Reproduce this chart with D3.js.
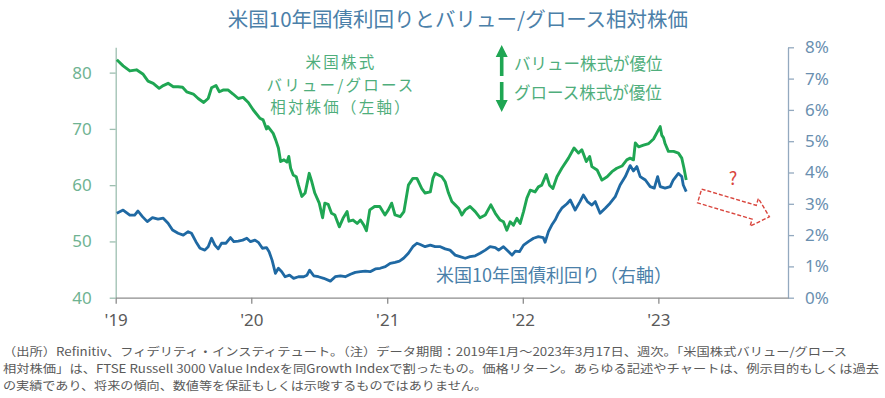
<!DOCTYPE html>
<html>
<head>
<meta charset="utf-8">
<script src="https://cdn.jsdelivr.net/npm/d3@7"></script>
<style>
    html, body { margin: 0; padding: 0; background: #fff; }
    svg text { font-family: "Noto Sans CJK JP", "Noto Sans", sans-serif; }
</style>
</head>
<body>
<svg id="chart" width="885" height="398"></svg>
<script>
// value / growth relative price (left axis), weekly
var ratioDates = [
    '2019-01-04', '2019-01-21', '2019-02-08', '2019-02-26', '2019-03-16', '2019-03-29', '2019-04-12', '2019-04-28',
    '2019-05-09', '2019-05-22', '2019-06-05', '2019-06-18', '2019-06-30', '2019-07-11', '2019-07-29', '2019-08-11',
    '2019-08-26', '2019-09-07', '2019-09-16', '2019-09-28', '2019-10-07', '2019-10-17', '2019-10-31', '2019-11-13',
    '2019-11-27', '2019-12-10', '2019-12-24', '2020-01-06', '2020-01-24', '2020-02-02', '2020-02-11', '2020-02-15',
    '2020-02-29', '2020-03-07', '2020-03-14', '2020-03-20', '2020-03-29', '2020-04-06', '2020-04-11', '2020-04-16',
    '2020-04-23', '2020-05-01', '2020-05-07', '2020-05-16', '2020-05-25', '2020-06-05', '2020-06-12', '2020-06-20',
    '2020-07-02', '2020-07-11', '2020-07-17', '2020-07-26', '2020-08-04', '2020-08-13', '2020-08-25', '2020-09-04',
    '2020-09-15', '2020-09-20', '2020-10-01', '2020-10-12', '2020-10-21', '2020-10-30', '2020-11-06', '2020-11-15',
    '2020-11-28', '2020-12-12', '2020-12-26', '2021-01-04', '2021-01-13', '2021-01-22', '2021-02-05', '2021-02-15',
    '2021-02-27', '2021-03-11', '2021-03-22', '2021-04-04', '2021-04-13', '2021-04-27', '2021-05-04', '2021-05-10',
    '2021-05-19', '2021-05-28', '2021-06-06', '2021-06-15', '2021-06-24', '2021-07-03', '2021-07-12', '2021-07-21',
    '2021-07-30', '2021-08-12', '2021-08-26', '2021-09-08', '2021-09-22', '2021-10-07', '2021-10-19', '2021-11-01',
    '2021-11-10', '2021-11-19', '2021-11-28', '2021-12-07', '2021-12-16', '2021-12-25', '2022-01-03', '2022-01-12',
    '2022-01-21', '2022-02-03', '2022-02-12', '2022-02-21', '2022-03-05', '2022-03-14', '2022-03-23', '2022-04-03',
    '2022-04-16', '2022-05-04', '2022-05-19', '2022-05-31', '2022-06-09', '2022-06-21', '2022-06-30', '2022-07-06',
    '2022-07-20', '2022-08-02', '2022-08-16', '2022-08-29', '2022-09-11', '2022-09-25', '2022-10-08', '2022-10-17',
    '2022-10-26', '2022-10-31', '2022-11-09', '2022-11-22', '2022-12-06', '2022-12-19', '2023-01-06', '2023-01-10',
    '2023-01-15', '2023-01-19', '2023-01-28', '2023-02-11', '2023-02-24', '2023-03-05', '2023-03-11', '2023-03-17'
];
var ratioValues = [
    82.3, 81.2, 80.3, 80.5, 79.7, 78.5, 78.1, 77.2,
    77.7, 78.1, 77.5, 77.5, 77.4, 76.6, 76.2, 75.4,
    74.7, 75.4, 77.3, 77.7, 76.6, 76.9, 76.9, 76.2,
    75.4, 75.6, 74.7, 73.4, 71.9, 71.6, 70.0, 70.4,
    69.2, 68.0, 66.6, 64.2, 64.5, 64.1, 65.1, 63.0,
    61.8, 61.5, 60.0, 58.0, 58.6, 62.1, 60.6, 58.6,
    56.8, 54.2, 56.8, 56.6, 55.0, 54.7, 52.6, 54.1,
    55.3, 53.6, 53.8, 53.2, 53.8, 52.9, 51.9, 55.6,
    56.2, 56.2, 54.7, 55.6, 56.8, 54.7, 54.4, 55.3,
    60.0, 61.2, 61.2, 59.4, 58.6, 58.8, 61.2, 62.1,
    61.8, 61.5, 60.6, 58.6, 57.1, 56.5, 55.9, 54.7,
    55.6, 56.2, 55.3, 54.2, 54.7, 56.5, 55.0, 53.8,
    53.5, 52.0, 53.5, 52.9, 54.1, 53.2, 55.3, 57.7,
    59.1, 58.8, 59.7, 60.0, 61.9, 60.0, 59.4, 61.5,
    63.0, 64.8, 66.6, 65.7, 66.3, 64.2, 65.1, 63.3,
    62.7, 60.9, 61.5, 62.4, 63.0, 63.4, 64.5, 64.8,
    64.5, 67.5, 66.8, 67.1, 67.4, 68.2, 70.4, 68.9,
    68.4, 67.4, 66.0, 66.0, 65.7, 64.8, 63.0, 60.9
];

// US 10y treasury yield, % (right axis)
var yieldDates = [
    '2019-01-04', '2019-01-21', '2019-02-08', '2019-02-21', '2019-03-02', '2019-03-14', '2019-03-27', '2019-04-10',
    '2019-04-25', '2019-05-09', '2019-05-22', '2019-06-03', '2019-06-18', '2019-07-02', '2019-07-15', '2019-07-24',
    '2019-08-05', '2019-08-16', '2019-08-29', '2019-09-07', '2019-09-16', '2019-09-25', '2019-10-04', '2019-10-13',
    '2019-10-25', '2019-11-06', '2019-11-15', '2019-11-27', '2019-12-09', '2019-12-20', '2019-12-30', '2020-01-11',
    '2020-01-20', '2020-01-31', '2020-02-11', '2020-02-18', '2020-02-26', '2020-03-06', '2020-03-14', '2020-03-23',
    '2020-04-01', '2020-04-13', '2020-04-24', '2020-05-07', '2020-05-21', '2020-05-30', '2020-06-06', '2020-06-17',
    '2020-06-30', '2020-07-14', '2020-08-01', '2020-08-14', '2020-08-28', '2020-09-10', '2020-09-24', '2020-10-07',
    '2020-10-21', '2020-11-03', '2020-11-16', '2020-11-30', '2020-12-13', '2020-12-27', '2021-01-09', '2021-01-22',
    '2021-02-03', '2021-02-14', '2021-02-27', '2021-03-11', '2021-03-22', '2021-03-31', '2021-04-13', '2021-04-27',
    '2021-05-10', '2021-05-24', '2021-06-06', '2021-06-19', '2021-07-03', '2021-07-16', '2021-07-30', '2021-08-12',
    '2021-08-26', '2021-09-08', '2021-09-22', '2021-10-05', '2021-10-19', '2021-10-28', '2021-11-10', '2021-11-24',
    '2021-12-03', '2021-12-12', '2021-12-23', '2022-01-03', '2022-01-16', '2022-01-30', '2022-02-12', '2022-02-25',
    '2022-03-02', '2022-03-11', '2022-03-20', '2022-03-29', '2022-04-07', '2022-04-16', '2022-04-30', '2022-05-09',
    '2022-05-22', '2022-06-04', '2022-06-13', '2022-06-24', '2022-07-06', '2022-07-15', '2022-07-28', '2022-08-11',
    '2022-08-24', '2022-09-07', '2022-09-20', '2022-10-04', '2022-10-17', '2022-10-26', '2022-11-04', '2022-11-13',
    '2022-11-27', '2022-12-10', '2022-12-21', '2022-12-30', '2023-01-06', '2023-01-19', '2023-02-02', '2023-02-10',
    '2023-02-24', '2023-03-05', '2023-03-09', '2023-03-17'
];
var yieldValues = [
    2.70, 2.80, 2.64, 2.64, 2.77, 2.59, 2.43, 2.56,
    2.51, 2.54, 2.38, 2.16, 2.06, 2.00, 2.11, 2.06,
    1.79, 1.58, 1.52, 1.63, 1.90, 1.68, 1.56, 1.74,
    1.74, 1.92, 1.79, 1.81, 1.84, 1.90, 1.79, 1.84,
    1.77, 1.58, 1.60, 1.47, 1.20, 0.78, 0.94, 0.83,
    0.67, 0.72, 0.62, 0.67, 0.67, 0.72, 0.88, 0.70,
    0.67, 0.62, 0.53, 0.67, 0.70, 0.67, 0.75, 0.81,
    0.83, 0.85, 0.83, 0.92, 0.94, 0.99, 1.10, 1.13,
    1.17, 1.26, 1.42, 1.63, 1.74, 1.70, 1.63, 1.68,
    1.63, 1.63, 1.56, 1.52, 1.36, 1.31, 1.26, 1.31,
    1.34, 1.42, 1.52, 1.63, 1.60, 1.52, 1.63, 1.47,
    1.36, 1.49, 1.47, 1.68, 1.79, 1.90, 1.95, 1.92,
    1.77, 2.11, 2.32, 2.48, 2.70, 2.86, 3.00, 3.12,
    2.80, 3.07, 3.28, 3.07, 2.96, 3.07, 2.70, 2.86,
    3.02, 3.23, 3.60, 3.87, 4.22, 4.05, 4.19, 3.87,
    3.76, 3.55, 3.50, 3.87, 3.55, 3.50, 3.55, 3.76,
    3.97, 3.87, 3.60, 3.39
];

var yearTicks = ['2019-01-01', '2020-01-01', '2021-01-01', '2022-01-01', '2023-01-01'];
var yearLabels = ["'19", "'20", "'21", "'22", "'23"];
var leftTicks = [40, 50, 60, 70, 80];
var rightTicks = [0, 1, 2, 3, 4, 5, 6, 7, 8];

var titleText = '米国10年国債利回りとバリュー/グロース相対株価';
var ratioLabel = ['米国株式', 'バリュー/グロース', '相対株価（左軸）'];
var yieldLabel = '米国10年国債利回り（右軸）';
var upText = 'バリュー株式が優位';
var downText = 'グロース株式が優位';
var footnote = [
    '（出所）Refinitiv、フィデリティ・インスティテュート。（注）データ期間：2019年1月～2023年3月17日、週次。「米国株式バリュー/グロース',
    '相対株価」は、FTSE Russell 3000 Value Indexを同Growth Indexで割ったもの。価格リターン。あらゆる記述やチャートは、例示目的もしくは過去',
    'の実績であり、将来の傾向、数値等を保証もしくは示唆するものではありません。'
];

var green = '#1fa653';
var blue = '#1f69a3';
var parse = d3.timeParse('%Y-%m-%d');

var svg = d3.select('#chart');
var plotLeft = 115.7, plotRight = 788, plotTop = 47.3, plotBottom = 297.7;

var x = d3.scaleTime()
    .domain([parse('2019-01-01'), parse('2023-12-16')])
    .range([plotLeft, plotRight]);
var yLeft = d3.scaleLinear().domain([40, 84.5]).range([plotBottom, plotTop]);
var yRight = d3.scaleLinear().domain([0, 8]).range([plotBottom, plotTop]);

// title
svg.append('text')
    .attr('x', 458).attr('y', 27)
    .attr('text-anchor', 'middle')
    .attr('font-size', 20.5)
    .attr('fill', '#4b80a9')
    .text(titleText);

// axes
var leftAxis = svg.append('g')
    .attr('transform', 'translate(' + plotLeft + ',0)')
    .call(d3.axisLeft(yLeft).tickValues(leftTicks).tickSize(6).tickSizeOuter(0).tickPadding(18));
leftAxis.selectAll('path, line').attr('stroke', '#9dbfb0').attr('stroke-width', 1.3);
leftAxis.selectAll('text').attr('font-size', 17).attr('fill', '#6fb392')
    .style('font-family', '"Noto Sans", sans-serif');

var rightAxis = svg.append('g')
    .attr('transform', 'translate(' + plotRight + ',0)')
    .call(d3.axisRight(yRight).tickValues(rightTicks).tickFormat(function(d) { return d + '%'; })
        .tickSize(6).tickSizeOuter(0).tickPadding(11));
rightAxis.selectAll('path, line').attr('stroke', '#93a9bf').attr('stroke-width', 1.3);
rightAxis.selectAll('text').attr('font-size', 17).attr('fill', '#6a8fb0')
    .style('font-family', '"Noto Sans", sans-serif');

var bottomAxis = svg.append('g')
    .attr('transform', 'translate(0,' + plotBottom + ')')
    .call(d3.axisBottom(x).tickValues(yearTicks.map(parse))
        .tickFormat(function(d, i) { return yearLabels[i]; })
        .tickSize(6).tickSizeOuter(0).tickPadding(10));
bottomAxis.selectAll('path, line').attr('stroke', '#8c8c8c').attr('stroke-width', 1.3);
bottomAxis.selectAll('text').attr('font-size', 17).attr('fill', '#5a5a5a')
    .style('font-family', '"Noto Sans", sans-serif');

// lines
var ratioLine = d3.line()
    .x(function(d, i) { return x(parse(ratioDates[i])); })
    .y(function(d) { return yLeft(d); });
var yieldLine = d3.line()
    .x(function(d, i) { return x(parse(yieldDates[i])); })
    .y(function(d) { return yRight(d); });

svg.append('path')
    .datum(ratioValues)
    .attr('d', ratioLine)
    .attr('fill', 'none')
    .attr('stroke', green)
    .attr('stroke-width', 2.9)
    .attr('stroke-linejoin', 'round');

svg.append('path')
    .datum(yieldValues)
    .attr('d', yieldLine)
    .attr('fill', 'none')
    .attr('stroke', blue)
    .attr('stroke-width', 2.8)
    .attr('stroke-linejoin', 'round');

// labels on the plot
ratioLabel.forEach(function(line, i) {
    svg.append('text')
        .attr('x', 341)
        .attr('y', 68 + i * 22.5)
        .attr('text-anchor', 'middle')
        .attr('font-size', 15.5)
        .attr('letter-spacing', 2.2)
        .attr('fill', '#4fae7c')
        .text(line);
});

svg.append('text')
    .attr('x', 436).attr('y', 282)
    .attr('font-size', 18)
    .attr('fill', '#4a80a9')
    .text(yieldLabel);

// value / growth arrows
var arrowX = 501.7;
svg.append('path')
    .attr('d', 'M' + arrowX + ',45 L' + (arrowX + 6) + ',57 L' + (arrowX + 1.8) + ',57 L' + (arrowX + 1.8) + ',76 L'
        + (arrowX - 1.8) + ',76 L' + (arrowX - 1.8) + ',57 L' + (arrowX - 6) + ',57 Z')
    .attr('fill', green);
svg.append('path')
    .attr('d', 'M' + arrowX + ',112 L' + (arrowX + 6) + ',100 L' + (arrowX + 1.8) + ',100 L' + (arrowX + 1.8) + ',82 L'
        + (arrowX - 1.8) + ',82 L' + (arrowX - 1.8) + ',100 L' + (arrowX - 6) + ',100 Z')
    .attr('fill', green);

svg.append('text').attr('x', 514).attr('y', 70)
    .attr('font-size', 16.5).attr('fill', '#4fae7c').text(upText);
svg.append('text').attr('x', 514).attr('y', 99)
    .attr('font-size', 16.5).attr('fill', '#4fae7c').text(downText);

// red dashed outlook arrow
var tailX = x(parse('2023-04-22')), tailY = yRight(3.25);
svg.append('path')
    .attr('d', 'M0,-7.2 L57,-7.2 L57,-14.5 L72.8,0 L57,14.5 L57,7.2 L0,7.2 Z')
    .attr('transform', 'translate(' + tailX + ',' + tailY + ') rotate(16.6)')
    .attr('fill', 'none')
    .attr('stroke', '#d9453d')
    .attr('stroke-width', 1.4)
    .attr('stroke-dasharray', '4,2');
svg.append('text')
    .attr('x', 733).attr('y', 185)
    .attr('text-anchor', 'middle')
    .attr('font-size', 18)
    .attr('fill', '#d9453d')
    .text('?');

// footnote
var noteWidths = [844, 876, 484];
footnote.forEach(function(line, i) {
    svg.append('text')
        .attr('x', 3)
        .attr('y', 356 + i * 17)
        .attr('font-size', 11.6)
        .attr('fill', '#5a5a5a')
        .attr('textLength', noteWidths[i])
        .attr('lengthAdjust', 'spacingAndGlyphs')
        .text(line);
});
</script>
</body>
</html>
